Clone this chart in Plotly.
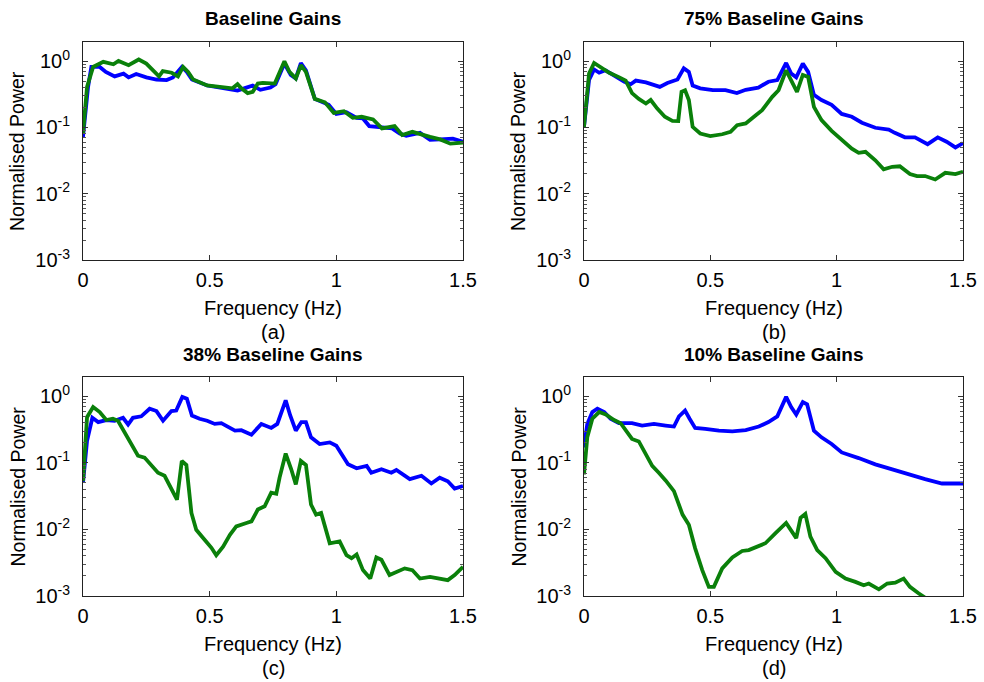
import plotly.graph_objects as go

# ---------------- data ----------------
a_blue_x = [0, 0.02, 0.033, 0.066, 0.09, 0.125, 0.16, 0.18, 0.21, 0.25, 0.29, 0.33, 0.355, 0.39, 0.41, 0.43, 0.49, 0.54, 0.59, 0.61, 0.645, 0.67, 0.70, 0.74, 0.76, 0.795, 0.82, 0.84, 0.86, 0.88, 0.915, 0.95, 0.97, 1.0, 1.04, 1.08, 1.105, 1.13, 1.17, 1.22, 1.25, 1.276, 1.33, 1.37, 1.41, 1.46, 1.5]
a_blue_y = [0.072, 0.41, 0.82, 0.82, 0.69, 0.59, 0.65, 0.57, 0.64, 0.57, 0.53, 0.52, 0.57, 0.82, 0.69, 0.53, 0.43, 0.40, 0.37, 0.36, 0.40, 0.43, 0.37, 0.40, 0.45, 0.92, 0.62, 0.55, 0.94, 0.73, 0.27, 0.24, 0.22, 0.16, 0.17, 0.14, 0.137, 0.105, 0.10, 0.097, 0.081, 0.075, 0.083, 0.065, 0.066, 0.068, 0.061]
a_green_x = [0, 0.016, 0.04, 0.08, 0.12, 0.14, 0.18, 0.22, 0.25, 0.30, 0.315, 0.35, 0.375, 0.395, 0.415, 0.435, 0.49, 0.54, 0.59, 0.61, 0.625, 0.65, 0.67, 0.69, 0.71, 0.757, 0.795, 0.815, 0.84, 0.86, 0.88, 0.915, 0.955, 0.99, 1.03, 1.065, 1.10, 1.145, 1.18, 1.23, 1.26, 1.30, 1.34, 1.37, 1.41, 1.45, 1.5]
a_green_y = [0.081, 0.41, 0.82, 0.98, 0.90, 1.01, 0.87, 1.06, 0.92, 0.59, 0.71, 0.67, 0.59, 0.82, 0.69, 0.53, 0.43, 0.41, 0.39, 0.45, 0.39, 0.33, 0.345, 0.46, 0.47, 0.46, 1.0, 0.69, 0.55, 0.87, 0.69, 0.27, 0.24, 0.166, 0.176, 0.14, 0.145, 0.132, 0.097, 0.105, 0.077, 0.086, 0.077, 0.072, 0.066, 0.057, 0.059]

b_blue_x = [0, 0.02, 0.04, 0.06, 0.085, 0.125, 0.16, 0.185, 0.205, 0.245, 0.30, 0.33, 0.37, 0.395, 0.415, 0.43, 0.46, 0.51, 0.56, 0.605, 0.64, 0.69, 0.73, 0.765, 0.80, 0.82, 0.84, 0.866, 0.887, 0.91, 0.94, 0.98, 1.02, 1.06, 1.10, 1.153, 1.206, 1.23, 1.27, 1.31, 1.36, 1.40, 1.435, 1.47, 1.5]
b_blue_y = [0.102, 0.52, 0.75, 0.67, 0.73, 0.58, 0.49, 0.45, 0.51, 0.48, 0.41, 0.47, 0.53, 0.78, 0.69, 0.43, 0.39, 0.365, 0.365, 0.33, 0.37, 0.40, 0.49, 0.52, 0.94, 0.65, 0.57, 0.92, 0.69, 0.31, 0.26, 0.22, 0.16, 0.145, 0.118, 0.099, 0.093, 0.083, 0.071, 0.071, 0.056, 0.071, 0.061, 0.050, 0.058]
b_green_x = [0, 0.02, 0.04, 0.066, 0.1, 0.14, 0.165, 0.19, 0.217, 0.245, 0.264, 0.29, 0.32, 0.35, 0.373, 0.386, 0.40, 0.415, 0.43, 0.46, 0.50, 0.547, 0.58, 0.606, 0.64, 0.68, 0.705, 0.745, 0.77, 0.80, 0.824, 0.843, 0.866, 0.887, 0.91, 0.94, 0.98, 1.02, 1.06, 1.087, 1.114, 1.153, 1.186, 1.22, 1.25, 1.29, 1.318, 1.35, 1.39, 1.43, 1.47, 1.5]
b_green_y = [0.102, 0.65, 0.94, 0.82, 0.67, 0.57, 0.51, 0.33, 0.27, 0.23, 0.26, 0.193, 0.145, 0.126, 0.125, 0.345, 0.365, 0.26, 0.102, 0.081, 0.074, 0.079, 0.086, 0.108, 0.115, 0.153, 0.182, 0.29, 0.365, 0.73, 0.49, 0.345, 0.62, 0.58, 0.205, 0.129, 0.089, 0.065, 0.048, 0.0415, 0.043, 0.032, 0.0233, 0.0255, 0.026, 0.0198, 0.0185, 0.0185, 0.0164, 0.0207, 0.0198, 0.0215]

c_blue_x = [0, 0.016, 0.037, 0.06, 0.092, 0.125, 0.158, 0.178, 0.197, 0.23, 0.263, 0.29, 0.316, 0.349, 0.368, 0.392, 0.41, 0.43, 0.46, 0.49, 0.52, 0.546, 0.58, 0.60, 0.625, 0.665, 0.704, 0.743, 0.767, 0.80, 0.818, 0.84, 0.862, 0.88, 0.90, 0.934, 0.974, 1.0, 1.046, 1.08, 1.12, 1.138, 1.178, 1.217, 1.237, 1.29, 1.336, 1.375, 1.408, 1.44, 1.467, 1.5]
c_blue_y = [0.050, 0.215, 0.475, 0.41, 0.44, 0.43, 0.475, 0.377, 0.475, 0.50, 0.65, 0.60, 0.43, 0.60, 0.61, 0.98, 0.92, 0.515, 0.46, 0.43, 0.385, 0.395, 0.335, 0.305, 0.31, 0.265, 0.385, 0.335, 0.385, 0.87, 0.515, 0.305, 0.41, 0.41, 0.242, 0.192, 0.203, 0.181, 0.095, 0.083, 0.090, 0.071, 0.080, 0.071, 0.078, 0.057, 0.064, 0.049, 0.060, 0.053, 0.041, 0.045]
c_green_x = [0, 0.016, 0.04, 0.066, 0.092, 0.118, 0.138, 0.164, 0.19, 0.217, 0.243, 0.27, 0.296, 0.322, 0.349, 0.371, 0.39, 0.408, 0.428, 0.447, 0.48, 0.507, 0.526, 0.553, 0.58, 0.605, 0.645, 0.665, 0.69, 0.717, 0.743, 0.763, 0.776, 0.80, 0.822, 0.84, 0.86, 0.88, 0.90, 0.92, 0.94, 0.974, 1.013, 1.04, 1.06, 1.08, 1.105, 1.134, 1.158, 1.178, 1.21, 1.237, 1.27, 1.30, 1.33, 1.37, 1.40, 1.44, 1.467, 1.5]
c_green_y = [0.053, 0.486, 0.69, 0.58, 0.44, 0.46, 0.43, 0.29, 0.192, 0.128, 0.120, 0.090, 0.071, 0.064, 0.042, 0.028, 0.107, 0.093, 0.0177, 0.0099, 0.0070, 0.0053, 0.0041, 0.0055, 0.0083, 0.0111, 0.0125, 0.0132, 0.0199, 0.0223, 0.0356, 0.0343, 0.060, 0.138, 0.080, 0.0475, 0.107, 0.093, 0.0237, 0.0167, 0.0177, 0.0062, 0.0066, 0.0041, 0.0037, 0.0042, 0.00245, 0.00183, 0.0038, 0.0035, 0.00206, 0.00231, 0.0026, 0.00245, 0.00183, 0.00194, 0.00187, 0.00173, 0.00206, 0.00275]

d_blue_x = [0, 0.013, 0.033, 0.053, 0.08, 0.105, 0.138, 0.19, 0.23, 0.277, 0.323, 0.356, 0.376, 0.40, 0.418, 0.44, 0.48, 0.534, 0.587, 0.64, 0.692, 0.73, 0.765, 0.80, 0.82, 0.84, 0.866, 0.883, 0.91, 0.94, 0.98, 1.02, 1.087, 1.153, 1.22, 1.285, 1.35, 1.417, 1.5]
d_blue_y = [0.17, 0.385, 0.58, 0.65, 0.58, 0.46, 0.395, 0.395, 0.364, 0.385, 0.364, 0.351, 0.50, 0.61, 0.46, 0.335, 0.324, 0.305, 0.298, 0.31, 0.351, 0.41, 0.50, 0.98, 0.69, 0.533, 0.82, 0.757, 0.305, 0.242, 0.192, 0.1435, 0.118, 0.095, 0.080, 0.067, 0.057, 0.049, 0.049]
d_green_x = [0, 0.013, 0.033, 0.06, 0.086, 0.119, 0.145, 0.17, 0.19, 0.217, 0.244, 0.27, 0.296, 0.323, 0.356, 0.39, 0.415, 0.44, 0.468, 0.494, 0.514, 0.547, 0.587, 0.626, 0.652, 0.692, 0.718, 0.758, 0.80, 0.84, 0.857, 0.876, 0.896, 0.923, 0.956, 0.996, 1.035, 1.074, 1.107, 1.127, 1.167, 1.20, 1.232, 1.265, 1.29, 1.324, 1.35, 1.40, 1.45, 1.5]
d_green_y = [0.067, 0.242, 0.46, 0.58, 0.533, 0.44, 0.395, 0.29, 0.229, 0.21, 0.135, 0.090, 0.071, 0.0546, 0.0377, 0.0167, 0.0118, 0.0052, 0.00245, 0.00137, 0.00137, 0.0026, 0.0038, 0.00475, 0.0049, 0.0057, 0.0062, 0.0088, 0.0125, 0.0074, 0.0149, 0.0171, 0.0078, 0.0049, 0.0037, 0.00231, 0.00183, 0.00163, 0.00145, 0.00154, 0.00126, 0.00154, 0.00159, 0.00183, 0.00137, 0.0011, 0.00093, 0.0007, 0.00055, 0.00045]

titles = ["Baseline Gains", "75% Baseline Gains", "38% Baseline Gains", "10% Baseline Gains"]
sublabels = ["(a)", "(b)", "(c)", "(d)"]
x_ticks = [0, 0.5, 1, 1.5]
x_ticktext = ["0", "0.5", "1", "1.5"]
y_ticks = [1e-3, 1e-2, 1e-1, 1e0]
y_ticktext = ["10<sup>-3</sup>", "10<sup>-2</sup>", "10<sup>-1</sup>", "10<sup>0</sup>"]
y_minor = [m * 10.0 ** e for e in (-3, -2, -1, 0) for m in range(2, 10) if m * 10.0 ** e < 2.0]

panels = [
    (a_blue_x, a_blue_y, a_green_x, a_green_y),
    (b_blue_x, b_blue_y, b_green_x, b_green_y),
    (c_blue_x, c_blue_y, c_green_x, c_green_y),
    (d_blue_x, d_blue_y, d_green_x, d_green_y),
]

BLUE = "#0000FF"
GREEN = "#0A800A"
FONT = "Arial, Liberation Sans, sans-serif"
W, H = 984, 682

# plot-area pixel boxes (left, right, top, bottom)
boxes = [(83, 463, 42, 260), (584, 963, 42, 260), (83, 463, 377, 596), (584, 963, 377, 596)]

fig = go.Figure()
annotations = []
for i, (bx, by, gx, gy) in enumerate(panels):
    n = i + 1
    xa = "x" if n == 1 else f"x{n}"
    ya = "y" if n == 1 else f"y{n}"
    fig.add_trace(go.Scatter(x=bx, y=by, mode="lines", line=dict(color=BLUE, width=3.8),
                             xaxis=xa, yaxis=ya, showlegend=False))
    fig.add_trace(go.Scatter(x=gx, y=gy, mode="lines", line=dict(color=GREEN, width=3.8),
                             xaxis=xa, yaxis=ya, showlegend=False))
    l, r, t, b = boxes[i]
    xdom = [l / W, r / W]
    ydom = [1 - b / H, 1 - t / H]
    xkey = "xaxis" if n == 1 else f"xaxis{n}"
    ykey = "yaxis" if n == 1 else f"yaxis{n}"
    fig.update_layout(**{
        xkey: dict(domain=xdom, anchor=ya, range=[0, 1.5], tickvals=x_ticks, ticktext=x_ticktext,
                   ticks="inside", ticklen=5, tickcolor="#333", showline=True, linecolor="#222",
                   linewidth=1, mirror="ticks", showgrid=False, zeroline=False, automargin=False,
                   ticklabelstandoff=2,
                   tickfont=dict(family=FONT, size=20, color="black")),
        ykey: dict(domain=ydom, anchor=xa, type="log", range=[-3, 0.29], tickvals=y_ticks,
                   ticktext=y_ticktext, ticks="inside", ticklen=5, tickcolor="#333",
                   showline=True, linecolor="#222", linewidth=1, mirror="ticks",
                   showgrid=False, zeroline=False, automargin=False, ticklabelstandoff=8,
                   minor=dict(tickvals=y_minor, ticks="inside", ticklen=3, tickcolor="#555"),
                   tickfont=dict(family=FONT, size=20, color="black")),
    })
    cx = (l + r) / 2 / W
    cy = 1 - (t + b) / 2 / H
    annotations.append(dict(text=f"<b>{titles[i]}</b>", x=cx, y=1 - (t - 23) / H, xref="paper", yref="paper",
                            showarrow=False, font=dict(family=FONT, size=19, color="black"),
                            xanchor="center", yanchor="middle"))
    annotations.append(dict(text="Frequency (Hz)", x=cx, y=1 - (b + 48) / H, xref="paper", yref="paper",
                            showarrow=False, font=dict(family=FONT, size=20, color="black"),
                            xanchor="center", yanchor="middle"))
    annotations.append(dict(text=sublabels[i], x=cx, y=1 - (b + 72) / H, xref="paper", yref="paper",
                            showarrow=False, font=dict(family=FONT, size=20, color="black"),
                            xanchor="center", yanchor="middle"))
    annotations.append(dict(text="Normalised Power", x=(l - 66) / W, y=cy, xref="paper", yref="paper",
                            showarrow=False, textangle=-90, font=dict(family=FONT, size=19.5, color="black"),
                            xanchor="center", yanchor="middle"))

fig.update_layout(width=W, height=H, margin=dict(l=0, r=0, t=0, b=0),
                  paper_bgcolor="white", plot_bgcolor="white", annotations=annotations)

fig.write_html("out.html", config={"displayModeBar": False},
               post_script="document.body.style.margin='0px';document.body.style.overflow='hidden';")
